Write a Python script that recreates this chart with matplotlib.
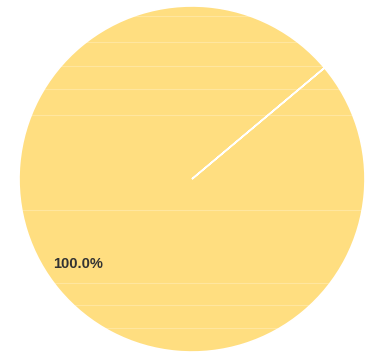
import matplotlib.pyplot as plt

labels = ["Total"]
values = [100.0]
colors = ["#ffde80"]

# faint horizontal stripes seen through the pie (pixel rows of the reference)
stripe_rows = [16, 42, 66, 89, 115, 210, 283, 305, 328]

fig = plt.figure(figsize=(3.69, 3.53), dpi=100)
ax = fig.add_axes([19 / 369, 1 / 353, 346 / 369, 346 / 353])

wedges, texts, autotexts = ax.pie(
    values, colors=colors, startangle=40, counterclock=True,
    autopct="%.1f%%", pctdistance=0.82, radius=1,
    wedgeprops=dict(edgecolor="white", linewidth=1.2),
    textprops=dict(fontsize=10.5, fontweight="bold", color="#333333",
                   family=["Liberation Sans", "DejaVu Sans"]),
)
# a single 100% wedge hits float round-off in Path.arc; keep a hair-thin gap
# so the fill is drawn and the start edge still shows as a white line
for w in wedges:
    w.set_theta2(w.theta1 + 359.99)

# label sits a little higher/left than matplotlib's mid-angle spot
for t in autotexts:
    x, y = t.get_position()
    t.set_position((x - 0.03, y + 0.035))

ax.set_xlim(-1, 1)
ax.set_ylim(-1, 1)
ax.set_aspect("equal")

for r in stripe_rows:
    y = (179 - r) / 173
    ax.axhline(y, color="white", linewidth=0.8, alpha=0.25, zorder=5)

ax.set_axis_off()
fig.savefig("out.png", dpi=100)
